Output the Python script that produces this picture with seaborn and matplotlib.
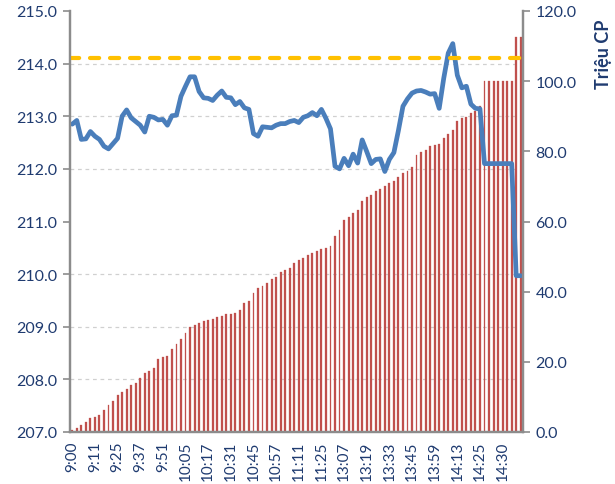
import matplotlib
matplotlib.use("Agg")
import matplotlib.pyplot as plt
import seaborn as sns
import numpy as np
import pandas as pd

# data
time_labels = ["9:00", "9:11", "9:25", "9:37", "9:51", "10:05", "10:17", "10:31", "10:45", "10:57",
               "11:11", "11:25", "13:07", "13:19", "13:33", "13:45", "13:59", "14:13", "14:25", "14:30"]

price = [212.85, 212.92, 212.56, 212.57, 212.71, 212.62, 212.56, 212.43, 212.38, 212.48,
         212.58, 213.00, 213.12, 212.97, 212.90, 212.83, 212.70, 213.00, 212.98, 212.93,
         212.94, 212.83, 213.01, 213.02, 213.38, 213.57, 213.75, 213.75, 213.47, 213.35,
         213.34, 213.30, 213.40, 213.48, 213.36, 213.35, 213.22, 213.28, 213.16, 213.13,
         212.67, 212.62, 212.80, 212.79, 212.78, 212.83, 212.86, 212.86, 212.90, 212.92,
         212.88, 212.98, 213.01, 213.07, 213.01, 213.13, 212.96, 212.76, 212.05, 212.00,
         212.20, 212.06, 212.28, 212.11, 212.55, 212.33, 212.10, 212.18, 212.19, 211.95,
         212.18, 212.31, 212.73, 213.19, 213.33, 213.44, 213.48, 213.49, 213.46, 213.42,
         213.43, 213.15, 213.72, 214.20, 214.38, 213.78, 213.54, 213.57, 213.23, 213.15,
         213.14, 212.10, 212.10, 212.10, 212.10, 212.10, 212.10, 212.10, 209.97, 209.97]

volume = [0.6, 1.0, 1.9, 2.8, 4.0, 4.4, 4.8, 6.3, 7.7, 8.7,
          10.5, 11.5, 12.2, 13.4, 14.0, 15.5, 16.9, 17.4, 18.1, 20.7,
          21.3, 21.7, 23.6, 25.1, 26.5, 28.3, 30.0, 30.4, 31.1, 31.5,
          31.8, 32.3, 32.8, 33.2, 33.5, 33.6, 33.9, 34.8, 36.8, 37.3,
          39.5, 41.0, 41.5, 42.5, 43.7, 44.2, 45.5, 46.2, 46.7, 48.1,
          49.0, 49.6, 50.4, 51.1, 51.7, 52.1, 52.4, 53.1, 55.9, 57.7,
          60.5, 61.4, 62.5, 63.3, 65.9, 66.9, 67.6, 68.7, 69.2, 70.0,
          71.1, 71.6, 72.6, 73.7, 74.4, 75.4, 78.9, 79.7, 80.3, 81.4,
          81.8, 82.2, 83.8, 84.9, 86.0, 88.7, 89.4, 89.8, 90.8, 91.5,
          92.8, 100.0, 100.0, 100.0, 100.0, 100.0, 100.0, 100.0, 112.6, 112.6]

ref_price = 214.1

navy = "#1F3B70"
gray = "#8C8C8C"

sns.set_style("white")
plt.rcParams["font.family"] = ["Lato", "DejaVu Sans"]

df = pd.DataFrame({"idx": range(len(price)), "price": price, "volume": volume})

fig = plt.figure(figsize=(6.15, 4.85), dpi=100)
ax_vol = fig.add_axes([70 / 615, 1 - 433 / 485, 453 / 615, 421 / 485])

sns.barplot(data=df, x="idx", y="volume", color="#C0504D", saturation=1, width=0.42,
            edgecolor="#C0504D", linewidth=0.2, ax=ax_vol)

ax_px = ax_vol.twinx()
sns.lineplot(data=df, x="idx", y="price", color="#4A7EBB", linewidth=3.4, ax=ax_px)
ax_px.axhline(ref_price, color="#FFC000", lw=3, dashes=(2.2, 2.6), dash_capstyle="round")

# price axis on the left, volume axis on the right
ax_px.yaxis.tick_left()
ax_px.yaxis.set_label_position("left")
ax_vol.yaxis.tick_right()
ax_vol.yaxis.set_label_position("right")

ax_vol.set_xlim(-0.5, len(price) - 0.5)
ax_vol.set_ylim(0, 120)
ax_px.set_ylim(207, 215)

ax_vol.set_yticks(np.arange(0, 121, 20), labels=[f"{v:.1f}" for v in np.arange(0, 121, 20)])
ax_px.set_yticks(np.arange(207, 215.1, 1), labels=[f"{v:.1f}" for v in np.arange(207, 215.1, 1)])

# grid follows the price ticks
ax_vol.set_yticks(np.arange(15, 121, 15), minor=True)
ax_vol.grid(axis="y", which="minor", color="#D0D0D0", linestyle=(0, (3, 3)), linewidth=0.9)
ax_vol.set_axisbelow(True)

ax_vol.set_xticks(range(0, len(price), 5), labels=time_labels, rotation=90)
ax_vol.set_xticks(np.arange(-0.5, len(price), 1), minor=True)

ax_vol.tick_params(axis="x", which="major", length=0, pad=6, labelsize=11, labelcolor=navy)
ax_vol.tick_params(axis="x", which="minor", length=4, width=1, color=gray, direction="out")
ax_vol.tick_params(axis="y", which="major", length=5, width=1.2, color=gray, labelsize=11.5, labelcolor=navy, pad=4)
ax_vol.tick_params(axis="y", which="minor", length=0)
ax_px.tick_params(axis="y", length=5, width=1.2, color=gray, labelsize=11.5, labelcolor=navy, pad=4)

ax_vol.set_xlabel("")
ax_px.set_xlabel("")
ax_px.set_ylabel("")
ax_vol.set_ylabel("Triệu CP", fontsize=13, fontweight="bold", color=navy)
ax_vol.yaxis.set_label_coords(1.158, 0.9)

for a in (ax_vol, ax_px):
    a.spines["top"].set_visible(False)
    for s in ("left", "right", "bottom"):
        a.spines[s].set_color(gray)
        a.spines[s].set_linewidth(1.6)

plt.savefig("out.png", dpi=100)
